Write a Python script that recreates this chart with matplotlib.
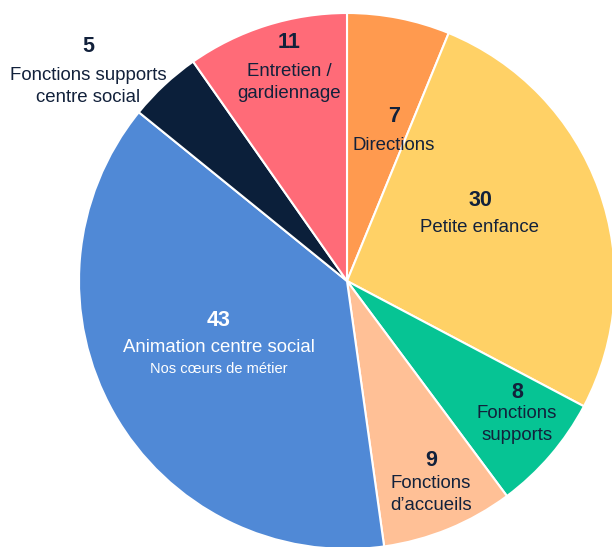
import matplotlib
matplotlib.use("Agg")
import matplotlib.pyplot as plt

plt.rcParams['font.family'] = ['Liberation Sans', 'DejaVu Sans']

# Data (clockwise from 12 o'clock)
categories = ["Directions", "Petite enfance", "Fonctions supports", "Fonctions d\u2019accueils",
              "Animation centre social", "Fonctions supports centre social", "Entretien / gardiennage"]
values = [7, 30, 8, 9, 43, 5, 11]
label_lines = [["Directions"], ["Petite enfance"], ["Fonctions", "supports"],
               ["Fonctions", "d\u2019accueils"], ["Animation centre social"],
               ["Fonctions supports", "centre social"], ["Entretien /", "gardiennage"]]
subtitle = "Nos c\u0153urs de m\u00e9tier"

colors = ["#FF9A4F", "#FFD166", "#06C494", "#FFC096", "#5089D6", "#0B1F3A", "#FF6B78"]
dark = "#12213B"
text_colors = [dark, dark, dark, dark, "white", dark, dark]

W, H = 612, 547
fig = plt.figure(figsize=(W / 100, H / 100), dpi=100)
ax = fig.add_axes([0, 0, 1, 1])

cx, cy, r = 347, 281, 268
# y axis inverted -> counterclock=True renders clockwise on screen
ax.pie(values, colors=colors, center=(cx, cy), radius=r, startangle=270, counterclock=True,
       wedgeprops=dict(edgecolor="white", linewidth=1.5), frame=True)
ax.set_xlim(0, W)
ax.set_ylim(H, 0)
ax.set_aspect('equal')
ax.axis('off')

# label layout: (x, y of number, y of first label line)
layout = [(394, 117, 145), (480, 200, 228), (517, 393, 414), (431, 461, 483),
          (219, 320, 348), (88, 47, 76), (289, 43, 71)]
line_gap = 22

for i, (x, yn, yl) in enumerate(layout):
    c = text_colors[i]
    ax.text(x, yn, str(values[i]), ha='center', va='center', fontsize=15.5,
            fontweight='bold', color=c)
    for j, line in enumerate(label_lines[i]):
        ax.text(x, yl + j * line_gap, line, ha='center', va='center', fontsize=13.4, color=c)

ax.text(219, 369, subtitle, ha='center', va='center', fontsize=10.5, color="white")

fig.savefig("out.png", dpi=100)
